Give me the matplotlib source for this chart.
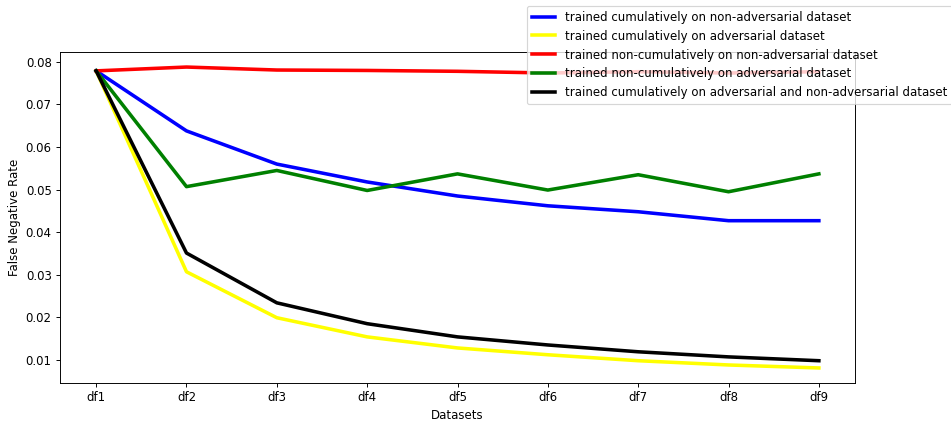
import matplotlib
matplotlib.use("Agg")
import matplotlib.pyplot as plt

datasets = ["df1", "df2", "df3", "df4", "df5", "df6", "df7", "df8", "df9"]
cum_nonadv = [0.0779, 0.0638, 0.0560, 0.0518, 0.0485, 0.0462, 0.0448, 0.0427, 0.0427]
cum_adv = [0.0779, 0.0307, 0.0199, 0.0154, 0.0128, 0.0112, 0.0098, 0.0088, 0.0081]
noncum_nonadv = [0.0779, 0.0788, 0.0781, 0.0780, 0.0778, 0.0774, 0.0777, 0.0774, 0.0777]
noncum_adv = [0.0779, 0.0507, 0.0545, 0.0498, 0.0537, 0.0499, 0.0535, 0.0495, 0.0537]
cum_both = [0.0779, 0.0351, 0.0234, 0.0185, 0.0154, 0.0135, 0.0119, 0.0107, 0.0098]

labels = [
    "trained cumulatively on non-adversarial dataset",
    "trained cumulatively on adversarial dataset",
    "trained non-cumulatively on non-adversarial dataset",
    "trained non-cumulatively on adversarial dataset",
    "trained cumulatively on adversarial and non-adversarial dataset",
]
colors = ["blue", "yellow", "red", "green", "black"]
series = [cum_nonadv, cum_adv, noncum_nonadv, noncum_adv, cum_both]

DPI = 85
fig = plt.figure(figsize=(951/DPI, 422/DPI), dpi=DPI)
ax = fig.add_axes([60/951, 39/422, 795/951, 331/422])
for s, c, l in zip(series, colors, labels):
    ax.plot(datasets, s, color=c, linewidth=3, label=l)
ax.set_xlabel("Datasets")
ax.set_ylabel("False Negative Rate")
fig.legend(loc="upper left", bbox_to_anchor=(527/951, 1 - 6/422),
           bbox_transform=fig.transFigure, borderaxespad=0)
fig.savefig("out.png", dpi=DPI)
